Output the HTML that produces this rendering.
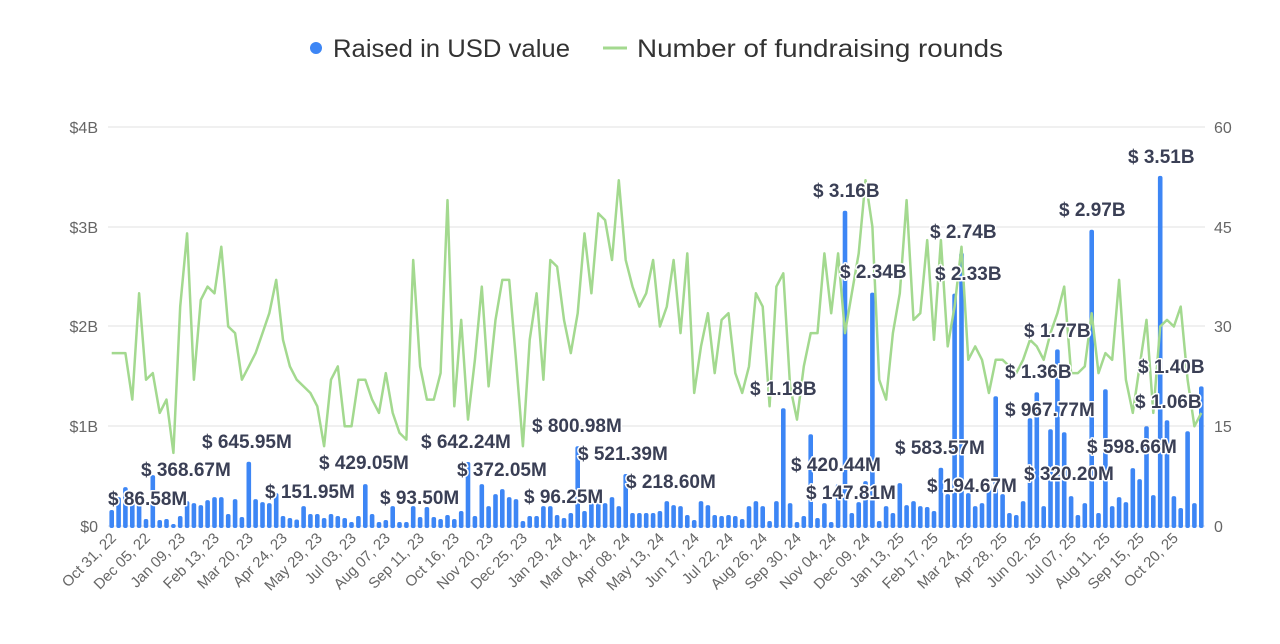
<!DOCTYPE html>
<html><head><meta charset="utf-8"><style>
html,body{margin:0;padding:0;background:#fff;}
svg{display:block;font-family:"Liberation Sans",sans-serif;}
.ax{font-size:16px;fill:#666;}
.xl{font-size:15px;fill:#666;}
.lb{font-size:19px;font-weight:bold;fill:#3a3f55;stroke:#fff;stroke-width:3px;paint-order:stroke;stroke-linejoin:round;}
</style></head><body>
<svg id="c" width="1280" height="644" viewBox="0 0 1280 644">
<g stroke="#e0e0e0" stroke-width="1">
<line x1="108" x2="1205" y1="127" y2="127"/><line x1="108" x2="1205" y1="227" y2="227"/>
<line x1="108" x2="1205" y1="326" y2="326"/><line x1="108" x2="1205" y1="426" y2="426"/>
<line x1="108" x2="1205" y1="526" y2="526"/></g>
<g class="ax" text-anchor="end"><text x="98" y="133">$4B</text><text x="98" y="233">$3B</text><text x="98" y="332">$2B</text><text x="98" y="432">$1B</text><text x="98" y="532">$0</text></g>
<g class="ax"><text x="1214" y="133">60</text><text x="1214" y="233">45</text><text x="1214" y="332">30</text><text x="1214" y="432">15</text><text x="1214" y="532">0</text></g>
<circle cx="316" cy="48" r="6" fill="#3d86f5"/>
<text x="333" y="57" textLength="237" lengthAdjust="spacingAndGlyphs" style="font-size:25px;fill:#333">Raised in USD value</text>
<line x1="603" x2="627" y1="48" y2="48" stroke="#a3d98f" stroke-width="3"/>
<text x="637" y="57" textLength="366" lengthAdjust="spacingAndGlyphs" style="font-size:25px;fill:#333">Number of fundraising rounds</text>
<g id="bars" fill="#3d86f5"></g>
<polyline id="ln" fill="none" stroke="#a3d98f" stroke-width="2.5" stroke-linejoin="round"/>
<g class="lb">
<text x="108" y="505">$ 86.58M</text><text x="141" y="476">$ 368.67M</text><text x="202" y="448">$ 645.95M</text>
<text x="265" y="498">$ 151.95M</text><text x="319" y="469">$ 429.05M</text><text x="380" y="504">$ 93.50M</text>
<text x="421" y="448">$ 642.24M</text><text x="457" y="476">$ 372.05M</text><text x="524" y="503">$ 96.25M</text>
<text x="532" y="432">$ 800.98M</text><text x="578" y="460">$ 521.39M</text><text x="626" y="488">$ 218.60M</text>
<text x="750" y="395">$ 1.18B</text><text x="791" y="471">$ 420.44M</text><text x="806" y="499">$ 147.81M</text>
<text x="813" y="197">$ 3.16B</text><text x="840" y="278">$ 2.34B</text><text x="895" y="454">$ 583.57M</text>
<text x="927" y="492">$ 194.67M</text><text x="930" y="238">$ 2.74B</text><text x="935" y="280">$ 2.33B</text>
<text x="1005" y="378">$ 1.36B</text><text x="1005" y="416">$ 967.77M</text><text x="1024" y="337">$ 1.77B</text>
<text x="1024" y="480">$ 320.20M</text><text x="1059" y="216">$ 2.97B</text><text x="1087" y="453">$ 598.66M</text>
<text x="1135" y="408">$ 1.06B</text><text x="1138" y="373">$ 1.40B</text><text x="1128" y="163">$ 3.51B</text>
</g>
<g class="xl" text-anchor="end">
<text transform="translate(117,539) rotate(-45)">Oct 31, 22</text>
<text transform="translate(151,539) rotate(-45)">Dec 05, 22</text>
<text transform="translate(186,539) rotate(-45)">Jan 09, 23</text>
<text transform="translate(220,539) rotate(-45)">Feb 13, 23</text>
<text transform="translate(254,539) rotate(-45)">Mar 20, 23</text>
<text transform="translate(288,539) rotate(-45)">Apr 24, 23</text>
<text transform="translate(323,539) rotate(-45)">May 29, 23</text>
<text transform="translate(357,539) rotate(-45)">Jul 03, 23</text>
<text transform="translate(391,539) rotate(-45)">Aug 07, 23</text>
<text transform="translate(425,539) rotate(-45)">Sep 11, 23</text>
<text transform="translate(460,539) rotate(-45)">Oct 16, 23</text>
<text transform="translate(494,539) rotate(-45)">Nov 20, 23</text>
<text transform="translate(528,539) rotate(-45)">Dec 25, 23</text>
<text transform="translate(563,539) rotate(-45)">Jan 29, 24</text>
<text transform="translate(597,539) rotate(-45)">Mar 04, 24</text>
<text transform="translate(631,539) rotate(-45)">Apr 08, 24</text>
<text transform="translate(665,539) rotate(-45)">May 13, 24</text>
<text transform="translate(700,539) rotate(-45)">Jun 17, 24</text>
<text transform="translate(734,539) rotate(-45)">Jul 22, 24</text>
<text transform="translate(768,539) rotate(-45)">Aug 26, 24</text>
<text transform="translate(802,539) rotate(-45)">Sep 30, 24</text>
<text transform="translate(837,539) rotate(-45)">Nov 04, 24</text>
<text transform="translate(871,539) rotate(-45)">Dec 09, 24</text>
<text transform="translate(905,539) rotate(-45)">Jan 13, 25</text>
<text transform="translate(939,539) rotate(-45)">Feb 17, 25</text>
<text transform="translate(974,539) rotate(-45)">Mar 24, 25</text>
<text transform="translate(1008,539) rotate(-45)">Apr 28, 25</text>
<text transform="translate(1042,539) rotate(-45)">Jun 02, 25</text>
<text transform="translate(1077,539) rotate(-45)">Jul 07, 25</text>
<text transform="translate(1111,539) rotate(-45)">Aug 11, 25</text>
<text transform="translate(1145,539) rotate(-45)">Sep 15, 25</text>
<text transform="translate(1179,539) rotate(-45)">Oct 20, 25</text>
</g>
</svg>
<script>
var B=[160,290,390,290,250,70,510,60,70,20,100,250,230,210,260,290,290,120,270,90,645,270,240,230,330,100,80,65,200,120,120,80,120,100,80,40,100,420,120,40,60,
200,40,40,200,90,190,90,70,110,70,150,642,100,420,200,320,370,290,270,50,100,100,200,200,110,80,130,800,150,230,370,230,290,200,521,130,130,130,130,150,250,
210,200,110,60,250,210,110,100,110,100,70,200,250,200,50,250,1180,230,40,100,920,80,230,40,420,3160,130,240,450,2340,50,200,130,430,210,250,200,190,150,584,
320,2330,2740,330,200,230,420,1300,320,130,110,250,1080,1340,200,970,1770,940,300,110,230,2970,130,1370,200,290,240,580,470,1000,310,3510,1060,300,180,950,230,1400];
var L=[26,26,26,19,35,22,23,17,19,11,33,44,22,34,36,35,42,30,29,22,24,26,29,32,37,28,24,22,21,20,18,12,22,24,15,15,22,22,19,17,23,
17,14,13,40,24,19,19,23,49,18,31,16,25,36,21,31,37,37,25,12,28,35,22,40,39,31,26,32,44,35,47,46,40,52,40,36,33,35,40,30,33,
40,29,41,20,27,32,23,31,32,23,20,24,35,33,18,36,38,21,16,24,29,29,41,32,41,29,35,41,52,45,22,19,29,35,49,31,32,43,28,43,
27,33,42,25,27,25,20,25,25,24,23,25,28,27,25,29,32,36,23,23,24,32,23,26,25,37,22,17,24,31,17,30,31,30,33,22,15,17];
var g=document.getElementById('bars'),pts=[],ns='http://www.w3.org/2000/svg';
var n=B.length,step=(1201.3-111.7)/(n-1);
for(var i=0;i<n;i++){var x=111.7+i*step,h=B[i]/1000*99.75;
var r=document.createElementNS(ns,'rect');r.setAttribute('x',(x-2.3).toFixed(1));r.setAttribute('y',(526-h).toFixed(1));
r.setAttribute('width','4.6');r.setAttribute('height',(h+2).toFixed(1));r.setAttribute('rx','2');g.appendChild(r);}
for(var i=0;i<L.length;i++){var x=111.7+i*step;pts.push(x.toFixed(1)+','+(526-L[i]*399/60).toFixed(1));}
document.getElementById('ln').setAttribute('points',pts.join(' '));
</script>
</body></html>
